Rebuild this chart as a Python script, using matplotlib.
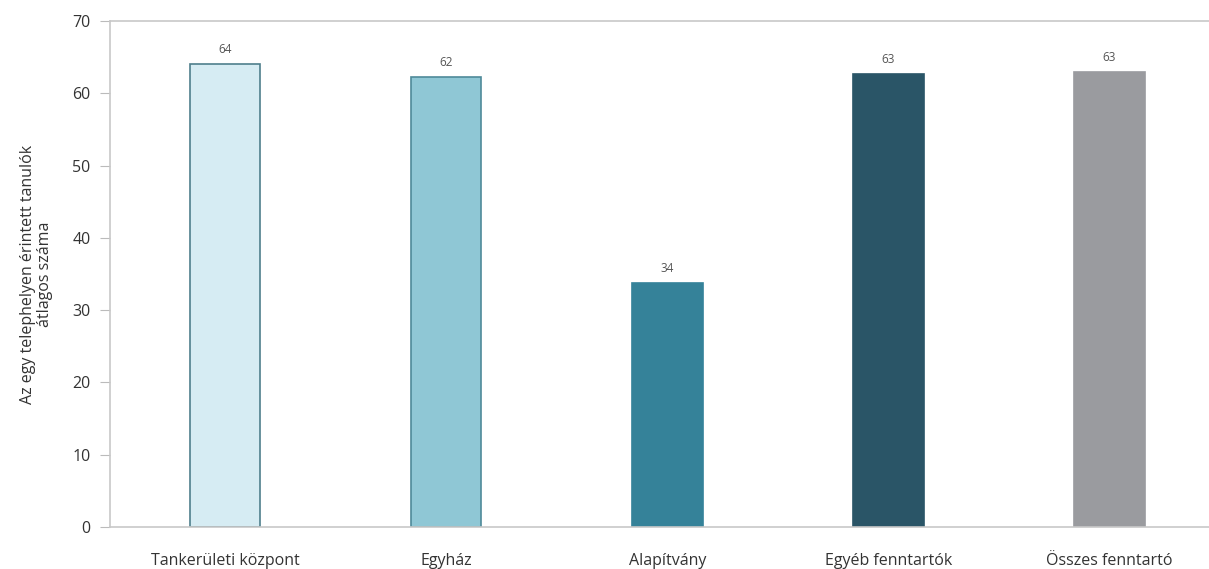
import matplotlib.pyplot as plt

plt.rcParams["font.family"] = ["Open Sans", "DejaVu Sans"]

categories = ["Tankerületi központ", "Egyház", "Alapítvány", "Egyéb fenntartók", "Összes fenntartó"]
values = [64, 62.2, 33.7, 62.6, 62.9]
labels = ["64", "62", "34", "63", "63"]
colors = ["#d6ecf3", "#8fc7d5", "#358299", "#2a5567", "#9a9b9f"]
edges = ["#4f7f8c", "#4f8a99", "#358299", "#2a5567", "#9a9b9f"]

fig = plt.figure(figsize=(12.09, 5.69), dpi=100)
ax = fig.add_axes([110 / 1209, 42 / 569, 1 - 110 / 1209, 506 / 569])

x = range(len(categories))
bars = ax.bar(x, values, width=0.32, color=colors, edgecolor=edges, linewidth=1.2)
for bar, lab in zip(bars, labels):
    ax.text(bar.get_x() + bar.get_width() / 2, bar.get_height() + 1.2, lab,
            ha="center", va="bottom", fontsize=8.5, color="#555555")

ax.set_xlim(-0.52, 4.45)
ax.set_ylim(0, 70)
ax.set_yticks(range(0, 71, 10))
ax.set_xticks(list(x))
ax.set_xticklabels(categories, fontsize=11.5, color="#333333")
ax.tick_params(axis="x", length=0, pad=19)
ax.tick_params(axis="y", length=7, color="#bbbbbb", labelsize=11.5, labelcolor="#333333", pad=7)

for side in ["left", "top", "bottom"]:
    ax.spines[side].set_color("#c8c8c8")
    ax.spines[side].set_linewidth(1.2)
ax.spines["right"].set_visible(False)

ax.set_ylabel("Az egy telephelyen érintett tanulók\nátlagos száma", fontsize=11.5,
              color="#333333", labelpad=14, linespacing=1.05)

fig.savefig("out.png", dpi=100)
